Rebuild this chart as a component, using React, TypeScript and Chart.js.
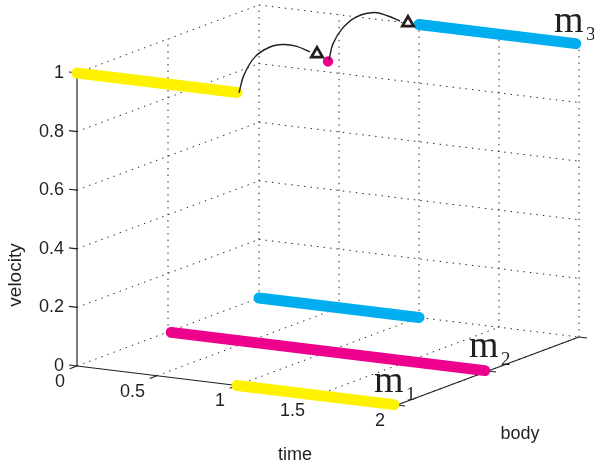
import React, { useEffect, useRef } from "react";
import { Chart, registerables } from "chart.js";

Chart.register(...registerables);

// Chart values: [time, body, velocity]
type P3 = [number, number, number];
const timeTicks = [0, 0.5, 1, 1.5, 2];
const bodyTicks = [1, 2, 3];
const velocityTicks = [0, 0.2, 0.4, 0.6, 0.8, 1];
const timeLabels = ["0", "0.5", "1", "1.5", "2"];
const velocityLabels = ["0", "0.2", "0.4", "0.6", "0.8", "1"];

const velocityM1: P3[] = [[0, 1, 1], [1, 1, 1]];
const velocityM1Rest: P3[] = [[1, 1, 0], [1.98, 1, 0]];
const velocityM2: P3[] = [[0.02, 2, 0], [1.98, 2, 0]];
const velocityM3Rest: P3[] = [[0, 3, 0], [1, 3, 0]];
const velocityM3: P3[] = [[1, 3, 1], [1.98, 3, 1]];
const impactDot: P3[] = [[1, 2, 0.99]];

const arcOne: P3[] = [
  [1.0125, 1, 1.0], [1.044, 1, 1.063], [1.1125, 1, 1.129], [1.206, 1, 1.169],
  [1.2875, 1, 1.183], [1.369, 1, 1.183], [1.456, 1, 1.169],
];
const arcTwo: P3[] = [
  [1.006, 2, 0.995], [1.031, 2, 1.052], [1.0875, 2, 1.107], [1.175, 2, 1.153],
  [1.2875, 2, 1.176], [1.375, 2, 1.17], [1.45, 2, 1.158],
];
const arrowHeads: P3[] = [[1.5, 1, 1.165], [1.5, 2, 1.155]];

const YELLOW = "#FFF200";
const MAGENTA = "#EC008C";
const CYAN = "#00AEEF";
const INK = "#231F20";

// Oblique projection of the 3-D box onto the flat chart scales
const project = ([t, b, v]: P3) => ({
  x: 77 + 160 * t + 91 * (b - 1),
  y: 366 + 19.5 * t - 34 * (b - 1) - 293 * v,
});

const seg = (a: P3, b: P3) => [project(a), project(b)];

const gridSegments = [
  ...timeTicks.map((t) => seg([t, 1, 0], [t, 3, 0])),
  ...bodyTicks.slice(1).map((b) => seg([0, b, 0], [2, b, 0])),
  ...velocityTicks.slice(1).map((v) => seg([0, 1, v], [0, 3, v])),
  ...velocityTicks.slice(1).map((v) => seg([0, 3, v], [2, 3, v])),
  ...bodyTicks.slice(1).map((b) => seg([0, b, 0], [0, b, 1])),
  ...timeTicks.slice(1).map((t) => seg([t, 3, 0], [t, 3, 1])),
];

const axisSegments = [
  seg([0, 1, 0], [0, 1, 1]),
  seg([0, 1, 0], [2, 1, 0]),
  seg([2, 1, 0], [2, 3, 0]),
];

const tickSegments = [
  ...velocityTicks.map((v) => seg([0, 1, v], [-0.05, 1, v])),
  ...timeTicks.map((t) => seg([t, 1, 0], [t, 0.92, 0])),
  ...bodyTicks.map((b) => seg([2, b, 0], [2.05, b, 0])),
];

const thick = (points: P3[], color: string) => ({
  data: points.map(project),
  showLine: true,
  borderColor: color,
  borderWidth: 11,
  borderCapStyle: "round" as const,
  pointRadius: 0,
});

const textPlugin = {
  id: "boxText",
  afterDraw(chart: any) {
    const ctx = chart.ctx;
    const sx = chart.scales.x;
    const sy = chart.scales.y;
    const at = (p: P3) => {
      const q = project(p);
      return [sx.getPixelForValue(q.x), sy.getPixelForValue(q.y)];
    };
    ctx.save();
    ctx.fillStyle = INK;
    ctx.textBaseline = "middle";
    ctx.font = "18px 'Liberation Sans'";
    ctx.textAlign = "right";
    velocityTicks.forEach((v, i) => {
      const [x, y] = at([0, 1, v]);
      ctx.fillText(velocityLabels[i], x - 13, y);
    });
    timeTicks.forEach((t, i) => {
      const [x, y] = at([t, 1, 0]);
      ctx.fillText(timeLabels[i], x - 12, y + 16);
    });
    ctx.textAlign = "center";
    ctx.fillText("time", 295, 455);
    ctx.fillText("body", 520, 434);
    ctx.save();
    ctx.translate(16, 275);
    ctx.rotate(-Math.PI / 2);
    ctx.font = "19px 'Liberation Sans'";
    ctx.fillText("velocity", 0, 0);
    ctx.restore();
    ctx.textBaseline = "alphabetic";
    ctx.textAlign = "left";
    const masses: [string, string, number, number][] = [
      ["m", "1", 374, 392],
      ["m", "2", 469, 357],
      ["m", "3", 554, 32],
    ];
    masses.forEach(([m, sub, x, y]) => {
      ctx.font = "38px 'Liberation Serif'";
      ctx.fillText(m, x, y);
      ctx.font = "19px 'Liberation Serif'";
      ctx.fillText(sub, x + 32, y + 8);
    });
    ctx.restore();
  },
};

export default function App() {
  const ref = useRef<HTMLCanvasElement>(null);
  useEffect(() => {
    if (!ref.current) return;
    const layers = [
      ...gridSegments.map((data) => ({
        data,
        showLine: true,
        borderColor: INK,
        borderWidth: 1,
        borderDash: [1.4, 5.1],
        pointRadius: 0,
      })),
      ...axisSegments.map((data) => ({
        data,
        showLine: true,
        borderColor: INK,
        borderWidth: 1.2,
        pointRadius: 0,
      })),
      ...tickSegments.map((data) => ({
        data,
        showLine: true,
        borderColor: INK,
        borderWidth: 1.2,
        pointRadius: 0,
      })),
      thick(velocityM1Rest, YELLOW),
      thick(velocityM2, MAGENTA),
      thick(velocityM3Rest, CYAN),
      thick(velocityM1, YELLOW),
      thick(velocityM3, CYAN),
      {
        data: impactDot.map(project),
        showLine: false,
        pointRadius: 5.2,
        pointBackgroundColor: MAGENTA,
        pointBorderWidth: 0,
      },
      ...[arcOne, arcTwo].map((arc) => ({
        data: arc.map(project),
        showLine: true,
        tension: 0.4,
        borderColor: INK,
        borderWidth: 1.4,
        pointRadius: 0,
      })),
      {
        data: arrowHeads.map(project),
        showLine: false,
        pointStyle: "triangle" as const,
        pointRadius: 6.5,
        pointBackgroundColor: "#FFFFFF",
        pointBorderColor: INK,
        pointBorderWidth: 2.8,
      },
    ];
    const chart = new Chart(ref.current, {
      type: "scatter",
      data: { datasets: layers.reverse() },
      options: {
        animation: false,
        responsive: false,
        layout: { padding: 0, autoPadding: false },
        plugins: { legend: { display: false }, tooltip: { enabled: false } },
        scales: {
          x: { type: "linear", min: 0, max: 594, display: false },
          y: { type: "linear", min: 0, max: 471, reverse: true, display: false },
        },
      },
      plugins: [textPlugin],
    } as any);
    return () => chart.destroy();
  }, []);
  return (
    <div style={{ position: "fixed", left: 0, top: 0, width: 594, height: 471, background: "#fff" }}>
      <canvas ref={ref} width={594} height={471} style={{ display: "block" }} />
    </div>
  );
}
